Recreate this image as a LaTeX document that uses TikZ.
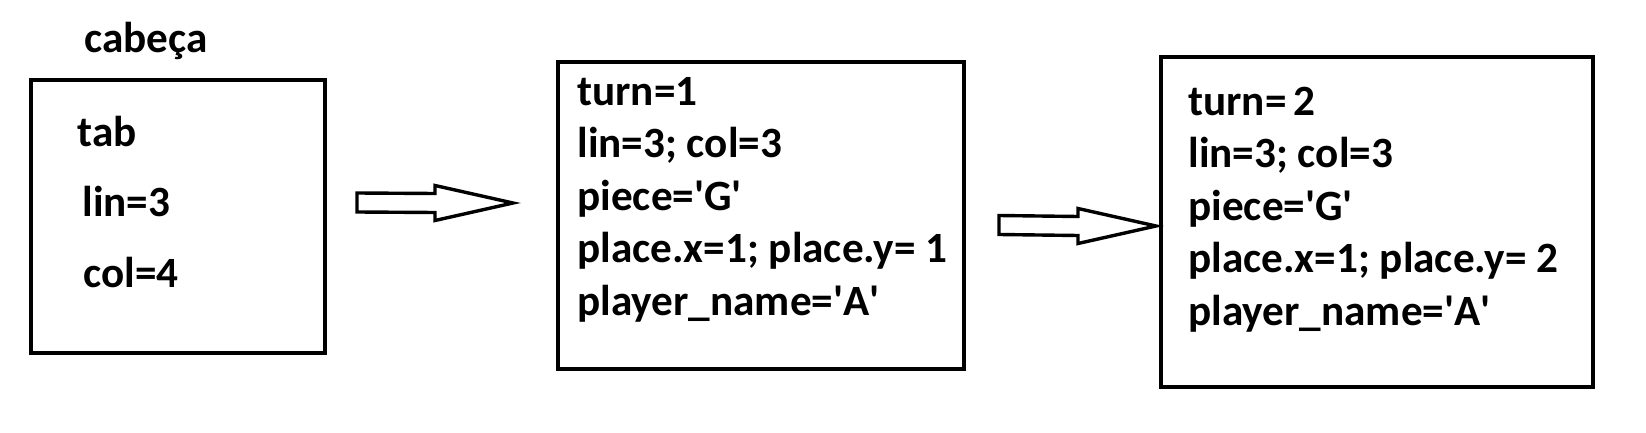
\documentclass[tikz,border=0pt]{standalone}
\usepackage{fontspec}
\setmainfont{Carlito}
\usetikzlibrary{calc}
\tikzset{
  box/.style={rectangle, draw, line width=2pt, inner sep=0pt},
  txt/.style={anchor=base west, inner sep=0pt, align=left,
              font=\fontsize{21.6}{26.25}\selectfont\bfseries},
  hollow/.style={draw, line width=1.7pt, line join=miter},
}
\newcommand{\q}{\textquotesingle}
% hollow block arrow from #1 to #2
\newcommand{\blockarrow}[2]{%
  \draw[hollow] ($(#1)+(0,-9.5)$) -- ($(#2)+(-78,-9.5)$) -- ($(#2)+(-78,-17.5)$) -- (#2)
    -- ($(#2)+(-78,17.5)$) -- ($(#2)+(-78,9.5)$) -- ($(#1)+(0,9.5)$) -- cycle;}

\begin{document}
\begin{tikzpicture}[x=0.5pt, y=-0.5pt]
  \useasboundingbox (0,0) rectangle (1646,433);

  % head of the list
  \node[box, minimum width=147pt, minimum height=136.5pt] (head) at (178,216.5) {};
  \node[txt] (headlbl) at (84,53) {cabeça};
  \node[txt] (tab) at (77,147) {tab};
  \node[txt] (lin) at (82,217) {lin=3};
  \node[txt] (col) at (83,287) {col=4};

  % first move (anchored at the baseline of its last line)
  \node[box, minimum width=203.25pt, minimum height=153.65pt] (move1) at (760.75,215.35) {};
  \node[txt] (move1txt) at (577,315)
       {turn=1\\lin=3; col=3\\piece=\q G\q\\place.x=1; place.y= 1\\player\_name=\q A\q};

  % second move
  \node[box, minimum width=216pt, minimum height=164.75pt] (move2) at (1377,222.25) {};
  \node[txt] (move2txt) at (1188,325)
       {turn=\,2\\lin=3; col=3\\piece=\q G\q\\place.x=1; place.y= 2\\player\_name=\q A\q};

  % arrows between the boxes
  \coordinate (a1s) at (357,202.5);
  \coordinate (a1e) at (513,203);
  \coordinate (a2s) at (999,225);
  \coordinate (a2e) at (1156,226);
  \blockarrow{a1s}{a1e}
  \blockarrow{a2s}{a2e}
\end{tikzpicture}
\end{document}
